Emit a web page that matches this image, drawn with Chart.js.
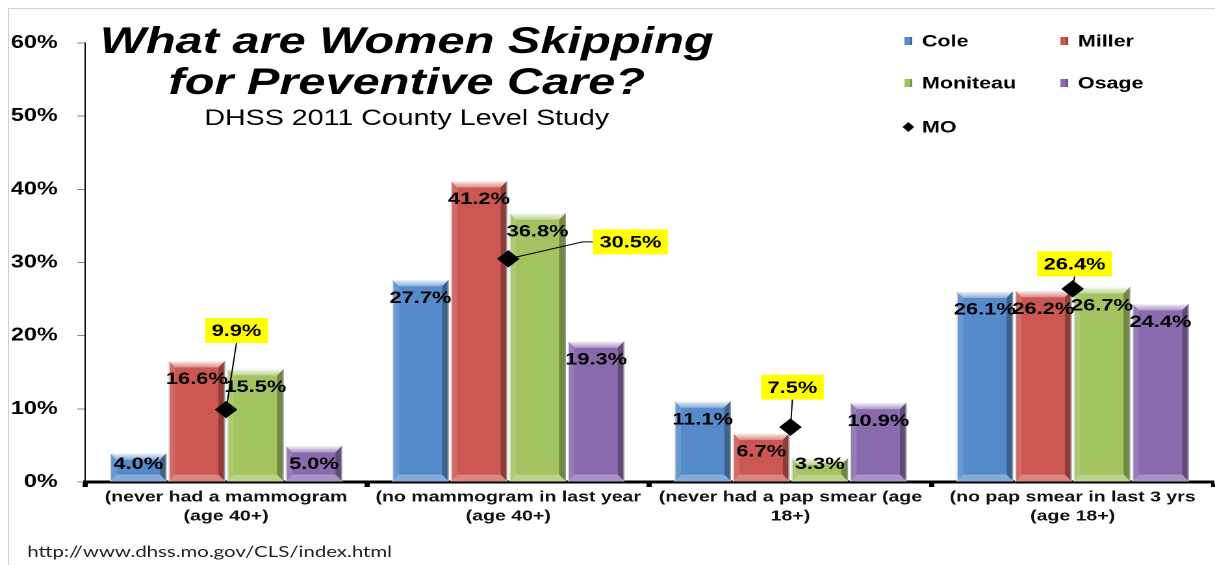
<!DOCTYPE html>
<html lang="en">

<head>
    <meta charset="UTF-8">
    <meta name="viewport" content="width=device-width, initial-scale=1.0">
    <title>What are Women Skipping for Preventive Care?</title>
    <style>
        html, body { margin: 0; padding: 0; background: #fff; overflow: hidden; }
        #frame {
            position: absolute; left: 8px; top: 8px; width: 1400px; height: 700px;
            border-left: 1px solid #d0d0d0; border-top: 1px solid #d0d0d0;
        }
        /* the slide graphic is wider than its type, so the whole chart is stretched sideways */
        #stretch {
            position: absolute; left: 0; top: 0; width: 935px; height: 565px;
            transform: scaleX(1.2995); transform-origin: 0 0;
        }
    </style>
</head>

<body>
    <div id="frame"></div>
    <div id="stretch"><canvas id="skip-chart"></canvas></div>
</body>

<script src="https://cdn.jsdelivr.net/npm/chart.js@4.4.0/dist/chart.umd.min.js"></script>

<script type="text/javascript" charset="utf-8">
    // Data
    var categories = [
        ['(never had a mammogram', '(age 40+)'],
        ['(no mammogram in last year', '(age 40+)'],
        ['(never had a pap smear (age', '18+)'],
        ['(no pap smear in last 3 yrs', '(age 18+)']
    ];
    var cole = [4.0, 27.7, 11.1, 26.1];
    var miller = [16.6, 41.2, 6.7, 26.2];
    var moniteau = [15.5, 36.8, 3.3, 26.7];
    var osage = [5.0, 19.3, 10.9, 24.4];
    var moState = [9.9, 30.5, 7.5, 26.4];
    var yTickValues = [0, 10, 20, 30, 40, 50, 60];

    var titleLines = ['What are Women Skipping', 'for Preventive Care?'];
    var subtitle = 'DHSS 2011 County Level Study';
    var sourceUrl = 'http://www.dhss.mo.gov/CLS/index.html';

    // where the yellow MO callouts sit, relative to their diamond
    var calloutOffsets = [[8, -79], [94, -17], [1.5, -40], [1.5, -25]];

    var FONT = '"Liberation Sans", Arial, sans-serif';

    function poly(ctx, pts, fill) {
        ctx.beginPath();
        ctx.moveTo(pts[0][0], pts[0][1]);
        for (var i = 1; i < pts.length; i++) ctx.lineTo(pts[i][0], pts[i][1]);
        ctx.closePath();
        ctx.fillStyle = fill;
        ctx.fill();
    }

    // Bevelled look on each bar
    var bevelPlugin = {
        id: 'bevel',
        afterDatasetDraw: function (chart, args) {
            var meta = args.meta;
            if (meta.type !== 'bar') return;
            var ctx = chart.ctx;
            ctx.save();
            meta.data.forEach(function (bar) {
                var p = bar.getProps(['x', 'y', 'base', 'width'], true);
                var l = p.x - p.width / 2, r = p.x + p.width / 2, t = p.y, b = p.base;
                var bh = 5.2, bv = Math.min(7, (b - t) / 2);
                var g = ctx.createLinearGradient(0, t, 0, t + bv);
                g.addColorStop(0, 'rgba(255,255,255,0.95)');
                g.addColorStop(1, 'rgba(255,255,255,0.3)');
                poly(ctx, [[l, t], [r, t], [r - bh, t + bv], [l + bh, t + bv]], g);
                poly(ctx, [[l, t], [l + bh, t + bv], [l + bh, b - bv], [l, b]], 'rgba(255,255,255,0.12)');
                poly(ctx, [[r, t], [r - bh, t + bv], [r - bh, b - bv], [r, b]], 'rgba(0,0,0,0.3)');
                poly(ctx, [[l, b], [l + bh, b - bv], [r - bh, b - bv], [r, b]], 'rgba(255,255,255,0.28)');
            });
            ctx.restore();
        }
    };

    // Value labels inside the bars and the MO callouts
    var labelPlugin = {
        id: 'valueLabels',
        afterDatasetsDraw: function (chart) {
            var ctx = chart.ctx;
            ctx.save();
            ctx.font = 'bold 16.8px ' + FONT;
            ctx.textAlign = 'center';
            ctx.textBaseline = 'middle';
            chart.data.datasets.forEach(function (ds, i) {
                var meta = chart.getDatasetMeta(i);
                if (meta.type !== 'bar') return;
                meta.data.forEach(function (bar, j) {
                    var y = Math.min(bar.y + 19, bar.base - 17);
                    ctx.fillStyle = '#000';
                    ctx.fillText(ds.data[j].toFixed(1) + '%', bar.x, y);
                });
            });

            chart.data.datasets.forEach(function (ds, i) {
                var meta = chart.getDatasetMeta(i);
                if (meta.type !== 'line') return;
                meta.data.forEach(function (pt, j) {
                    var off = calloutOffsets[j];
                    var text = ds.data[j].toFixed(1) + '%';
                    var bx = pt.x + off[0], by = pt.y + off[1];
                    var w = ctx.measureText(text).width + 10, h = 25;
                    ctx.strokeStyle = '#000';
                    ctx.lineWidth = 1;
                    ctx.beginPath();
                    if (Math.abs(off[0]) > 20) {
                        ctx.moveTo(bx - w / 2, by);
                        ctx.lineTo(bx - w / 2 - 8, by);
                    } else {
                        ctx.moveTo(bx, by + h / 2);
                    }
                    ctx.lineTo(pt.x, pt.y);
                    ctx.stroke();
                    ctx.fillStyle = '#ffff00';
                    ctx.fillRect(bx - w / 2, by - h / 2, w, h);
                    ctx.fillStyle = '#000';
                    ctx.fillText(text, bx, by + 1);
                });
            });
            ctx.restore();
        }
    };

    // Title block, legend and source line
    var textPlugin = {
        id: 'slideText',
        afterDraw: function (chart) {
            var ctx = chart.ctx;
            ctx.save();
            ctx.fillStyle = '#000';
            ctx.textAlign = 'center';
            ctx.textBaseline = 'alphabetic';
            ctx.font = 'italic bold 37.5px ' + FONT;
            ctx.fillText(titleLines[0], 313, 53);
            ctx.fillText(titleLines[1], 313, 94);
            ctx.font = '22px ' + FONT;
            ctx.fillText(subtitle, 313, 125);

            // legend, two columns
            var cols = [699, 819], rows = [41, 83, 127];
            ctx.font = 'bold 16.5px ' + FONT;
            ctx.textAlign = 'left';
            ctx.textBaseline = 'middle';
            chart.data.datasets.forEach(function (ds, i) {
                var cx = cols[i % 2], cy = rows[Math.floor(i / 2)];
                if (ds.type === 'line') {
                    poly(ctx, [[cx, cy - 5], [cx + 4.5, cy], [cx, cy + 5], [cx - 4.5, cy]], '#000');
                } else {
                    ctx.fillStyle = ds.backgroundColor;
                    ctx.fillRect(cx - 3, cy - 4, 6, 8);
                    ctx.fillStyle = 'rgba(0,0,0,0.25)';
                    ctx.fillRect(cx + 1.5, cy - 4, 1.5, 8);
                }
                ctx.fillStyle = '#000';
                ctx.fillText(ds.label, cx + 10.5, cy + 1);
            });

            ctx.font = '15.7px Lato, "Open Sans", sans-serif';
            ctx.fillStyle = '#222';
            ctx.fillText(sourceUrl, 21, 552);
            ctx.restore();
        }
    };

    function barSet(label, data, color) {
        return {
            type: 'bar', label: label, data: data, order: 1,
            backgroundColor: color, borderColor: '#d8d8d8', borderWidth: 1,
            barPercentage: 0.97, categoryPercentage: 0.83
        };
    }

    var ctx = document.getElementById('skip-chart').getContext('2d');
    var skipChart = new Chart(ctx, {
        data: {
            labels: categories,
            datasets: [
                barSet('Cole', cole, '#568bcb'),
                barSet('Miller', miller, '#cc5651'),
                barSet('Moniteau', moniteau, '#a2c35f'),
                barSet('Osage', osage, '#8a6aae'),
                {
                    type: 'line', label: 'MO', data: moState, order: 0,
                    showLine: false, pointStyle: 'rectRot', pointRadius: 8,
                    backgroundColor: '#000', borderColor: '#000'
                }
            ]
        },
        plugins: [bevelPlugin, labelPlugin, textPlugin],
        options: {
            responsive: true,
            maintainAspectRatio: false,
            animation: false,
            devicePixelRatio: 2,
            // the diamonds must not pull the plot in from the right edge
            layout: { autoPadding: false, padding: { top: 43, right: 1, left: 0, bottom: 0 } },
            plugins: {
                legend: { display: false },
                tooltip: { enabled: false }
            },
            scales: {
                x: {
                    afterFit: function (s) {
                        s.height = 83;
                        s.paddingLeft = 0;
                        s.paddingRight = 0;
                    },
                    border: { display: true, color: '#000', width: 3 },
                    grid: { offset: true, drawOnChartArea: false, tickLength: 5, tickWidth: 4, tickColor: '#000' },
                    ticks: {
                        autoSkip: false, maxRotation: 0, padding: 1, color: '#111',
                        font: { family: FONT, size: 15, weight: 'bold', lineHeight: 1.25 }
                    }
                },
                y: {
                    min: 0,
                    max: 60,
                    afterFit: function (s) { s.width = 65.4; },
                    afterBuildTicks: function (s) {
                        s.ticks = yTickValues.map(function (v) { return { value: v }; });
                    },
                    border: { display: true, color: '#000', width: 1 },
                    grid: { drawOnChartArea: false, tickLength: 6, tickColor: '#888' },
                    ticks: {
                        padding: 15, color: '#000',
                        font: { family: FONT, size: 18, weight: 'bold' },
                        callback: function (v) { return v + '%'; }
                    }
                }
            }
        }
    });
</script>

</html>
